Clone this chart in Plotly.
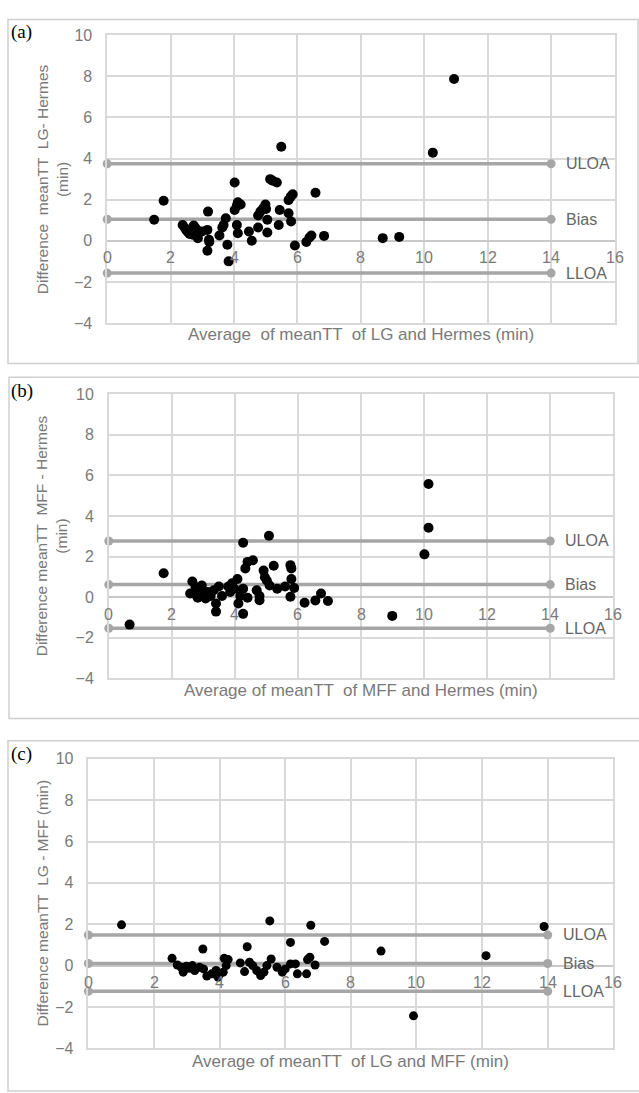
import plotly.graph_objects as go

W, H = 639, 1093

# ---------------- data ----------------
a_x = [1.48, 1.78, 2.38, 2.45, 2.5, 2.55, 2.6, 2.65, 2.7, 2.73, 2.8, 2.86, 2.99, 3.18, 3.16, 3.16, 3.21, 3.22,
       3.54, 3.63, 3.67, 3.74, 3.79, 3.83, 4.02, 4.02, 4.09, 4.12, 4.21, 4.09, 4.12, 4.47, 4.56, 4.76, 4.76,
       4.83, 4.92, 4.99, 5.01, 5.05, 5.05, 5.14, 5.22, 5.35, 5.49, 5.44, 5.41, 5.72, 5.72, 5.79, 5.85, 5.80,
       5.92, 6.28, 6.38, 6.44, 6.57, 6.84, 8.69, 9.21, 10.27, 10.94]
a_y = [1.02, 1.95, 0.77, 0.62, 0.5, 0.42, 0.33, 0.55, 0.3, 0.74, 0.6, 0.13, 0.45, 1.42, 0.53, -0.48, 0.05, -0.06,
       0.26, 0.65, 0.77, 1.1, -0.19, -1.0, 2.84, 1.5, 0.77, 1.87, 1.77, 1.71, 0.37, 0.45, 0.0, 0.65, 1.23,
       1.42, 1.58, 1.77, 1.55, 1.02, 0.40, 3.0, 2.92, 2.84, 4.58, 1.5, 0.77, 1.34, 1.98, 2.15, 2.26, 0.94,
       -0.23, -0.06, 0.16, 0.26, 2.34, 0.24, 0.13, 0.19, 4.29, 7.87]

b_x = [0.66, 1.74, 2.65, 2.58, 2.68, 2.75, 2.82, 2.88, 2.95, 3.01, 3.07, 3.14, 3.23, 3.33, 3.40, 3.40, 3.49,
       3.59, 3.79, 3.85, 3.91, 3.98, 4.08, 4.11, 4.17, 4.26, 4.26, 4.26, 4.33, 4.40, 4.57, 4.40, 4.69, 4.78,
       4.78, 4.91, 4.95, 5.01, 5.08, 5.10, 5.23, 5.34, 5.59, 5.76, 5.79, 5.79, 5.76, 5.88, 6.21, 6.55, 6.73,
       6.95, 8.99, 10.01, 10.14, 10.14]
b_y = [-1.35, 1.18, 0.77, 0.18, 0.18, 0.5, -0.03, 0.34, 0.58, 0.18, -0.06, 0.26, 0.06, 0.34, -0.31, -0.71, 0.53,
       0.06, 0.53, 0.26, 0.69, 0.42, 0.9, -0.31, 0.06, -0.82, 0.42, 2.68, 1.42, 1.74, 1.82, -0.03, 0.34, 0.06,
       -0.15, 1.31, 0.98, 0.82, 3.03, 0.58, 1.55, 0.42, 0.53, 1.58, 1.42, 0.9, 0.02, 0.45, -0.27, -0.16, 0.18,
       -0.19, -0.92, 2.11, 3.42, 5.58]

c_x = [1.01, 2.55, 2.71, 2.83, 2.89, 2.99, 3.08, 3.17, 3.24, 3.39, 3.49, 3.51, 3.61, 3.76, 3.89, 3.95, 4.01,
       4.11, 4.14, 4.20, 4.26, 4.63, 4.76, 4.84, 4.91, 5.01, 5.13, 5.25, 5.35, 5.44, 5.53, 5.57, 5.75, 5.91,
       6.0, 6.16, 6.16, 6.31, 6.37, 6.65, 6.68, 6.75, 6.78, 6.91, 7.20, 8.92, 9.91, 12.12, 13.89]
c_y = [1.97, 0.35, 0.03, -0.08, -0.32, -0.03, -0.13, 0.0, -0.24, -0.08, 0.8, -0.16, -0.51, -0.4, -0.24, -0.56,
       -0.4, -0.32, 0.35, 0.0, 0.29, 0.13, -0.29, 0.91, 0.16, 0.0, -0.24, -0.48, -0.32, 0.0, 2.16, 0.32, -0.08,
       -0.32, -0.16, 1.12, 0.08, 0.08, -0.4, -0.4, 0.29, 0.4, 1.95, 0.03, 1.17, 0.7, -2.43, 0.48, 1.89]

# Bias / limits of agreement per panel: [ULOA, Bias, LLOA]
a_limits = [3.75, 1.05, -1.57]
b_limits = [2.77, 0.62, -1.53]
c_limits = [1.48, 0.10, -1.24]
limit_names = ["ULOA", "Bias", "LLOA"]
limit_span = [0, 14]

x_ticks = [0, 2, 4, 6, 8, 10, 12, 14, 16]
y_ticks = [-4, -2, 0, 2, 4, 6, 8, 10]

panels = [
    dict(tag="(a)", x=a_x, y=a_y, lim=a_limits, msize=10,
         ytitle="Difference  meanTT  LG- Hermes<br>(min)",
         xtitle="Average  of meanTT  of LG and Hermes (min)",
         px=(107.2, 614.5), py=(27.7, 320.0), ytx=52, xty=332, tagy=24,
         frame=(8, 11.7, 638, 361)),
    dict(tag="(b)", x=b_x, y=b_y, lim=b_limits, msize=10,
         ytitle="Difference meanTT  MFF - Hermes<br>(min)",
         xtitle="Average of meanTT  of MFF and Hermes (min)",
         px=(108.8, 613.3), py=(392.3, 681.0), ytx=51, xty=693, tagy=389,
         frame=(9, 375, 640, 721.7)),
    dict(tag="(c)", x=c_x, y=c_y, lim=c_limits, msize=9,
         ytitle="Difference meanTT  LG - MFF (min)",
         xtitle="Average of meanTT  of LG and MFF (min)",
         px=(88.4, 613.3), py=(762.7, 1056.7), ytx=43, xty=1070, tagy=758,
         frame=(8, 744.3, 640, 1100)),
]

GRID = "#d9d9d9"
REF = "#a6a6a6"
TXT = "#7a7a7a"
FONT = "Liberation Sans, Arial, sans-serif"

fig = go.Figure()
layout = dict(width=W, height=H, margin=dict(l=0, r=0, t=0, b=0),
              paper_bgcolor="white", plot_bgcolor="white", showlegend=False,
              font=dict(family=FONT, color=TXT))
annotations = []
shapes = []

def px2x(p):
    return p / W

def px2y(p):
    return 1 - p / H

for i, p in enumerate(panels):
    n = "" if i == 0 else str(i + 1)
    xa, ya = "x" + n, "y" + n
    layout["xaxis" + n] = dict(domain=[px2x(p["px"][0]), px2x(p["px"][1])], range=[0, 16],
                               tickvals=x_ticks, showticklabels=False, showgrid=True,
                               gridcolor=GRID, gridwidth=1.5, zeroline=False,
                               showline=True, mirror=True, linecolor=GRID, linewidth=1.5,
                               anchor=ya, fixedrange=True)
    layout["yaxis" + n] = dict(domain=[px2y(p["py"][1]), px2y(p["py"][0])], range=[-4, 10],
                               tickvals=y_ticks, showgrid=True, gridcolor=GRID, gridwidth=1.5,
                               zeroline=True, zerolinecolor="#c9c9c9", zerolinewidth=1.5,
                               showline=True, mirror=True, linecolor=GRID, linewidth=1.5,
                               ticks="outside", ticklen=10, tickcolor="rgba(0,0,0,0)",
                               tickfont=dict(size=16, color=TXT, family=FONT),
                               anchor=xa, fixedrange=True)
    # reference lines
    for v, name in zip(p["lim"], limit_names):
        fig.add_trace(go.Scatter(x=limit_span, y=[v, v], mode="lines+markers",
                                 line=dict(color=REF, width=3.5),
                                 marker=dict(color=REF, size=9), cliponaxis=False,
                                 xaxis=xa, yaxis=ya, hoverinfo="skip"))
        annotations.append(dict(x=14.42, y=v, xref=xa, yref=ya, text=name, showarrow=False,
                                xanchor="left", yanchor="middle",
                                font=dict(size=16, color="#666666", family=FONT)))
    # data points
    fig.add_trace(go.Scatter(x=p["x"], y=p["y"], mode="markers",
                             marker=dict(color="black", size=p["msize"]), cliponaxis=False,
                             xaxis=xa, yaxis=ya))
    # x tick labels at the zero line
    for t in x_ticks:
        annotations.append(dict(x=t, y=0, xref=xa, yref=ya, text=str(t), showarrow=False,
                                xanchor="center", yanchor="middle", yshift=-17,
                                font=dict(size=16, color=TXT, family=FONT)))
    # axis titles
    annotations.append(dict(x=px2x(p["ytx"]), y=px2y((p["py"][0] + p["py"][1]) / 2),
                            xref="paper", yref="paper", text=p["ytitle"], showarrow=False,
                            textangle=-90, xanchor="center", yanchor="middle",
                            font=dict(size=15.5, color=TXT, family=FONT)))
    annotations.append(dict(x=px2x((p["px"][0] + p["px"][1]) / 2), y=px2y(p["xty"]),
                            xref="paper", yref="paper", text=p["xtitle"], showarrow=False,
                            xanchor="center", yanchor="middle",
                            font=dict(size=17, color=TXT, family=FONT)))
    annotations.append(dict(x=px2x(9), y=px2y(p["tagy"]), xref="paper", yref="paper",
                            text=p["tag"], showarrow=False, xanchor="left", yanchor="middle",
                            font=dict(size=19, color="black", family="Liberation Serif, Times New Roman, serif")))
    fx0, fy0, fx1, fy1 = p["frame"]
    shapes.append(dict(type="rect", xref="paper", yref="paper",
                       x0=px2x(fx0), x1=px2x(fx1), y0=px2y(fy1), y1=px2y(fy0),
                       line=dict(color="#d0d0d0", width=1.5), layer="below"))

layout["annotations"] = annotations
layout["shapes"] = shapes
fig.update_layout(**layout)
fig.write_html("out.html")
